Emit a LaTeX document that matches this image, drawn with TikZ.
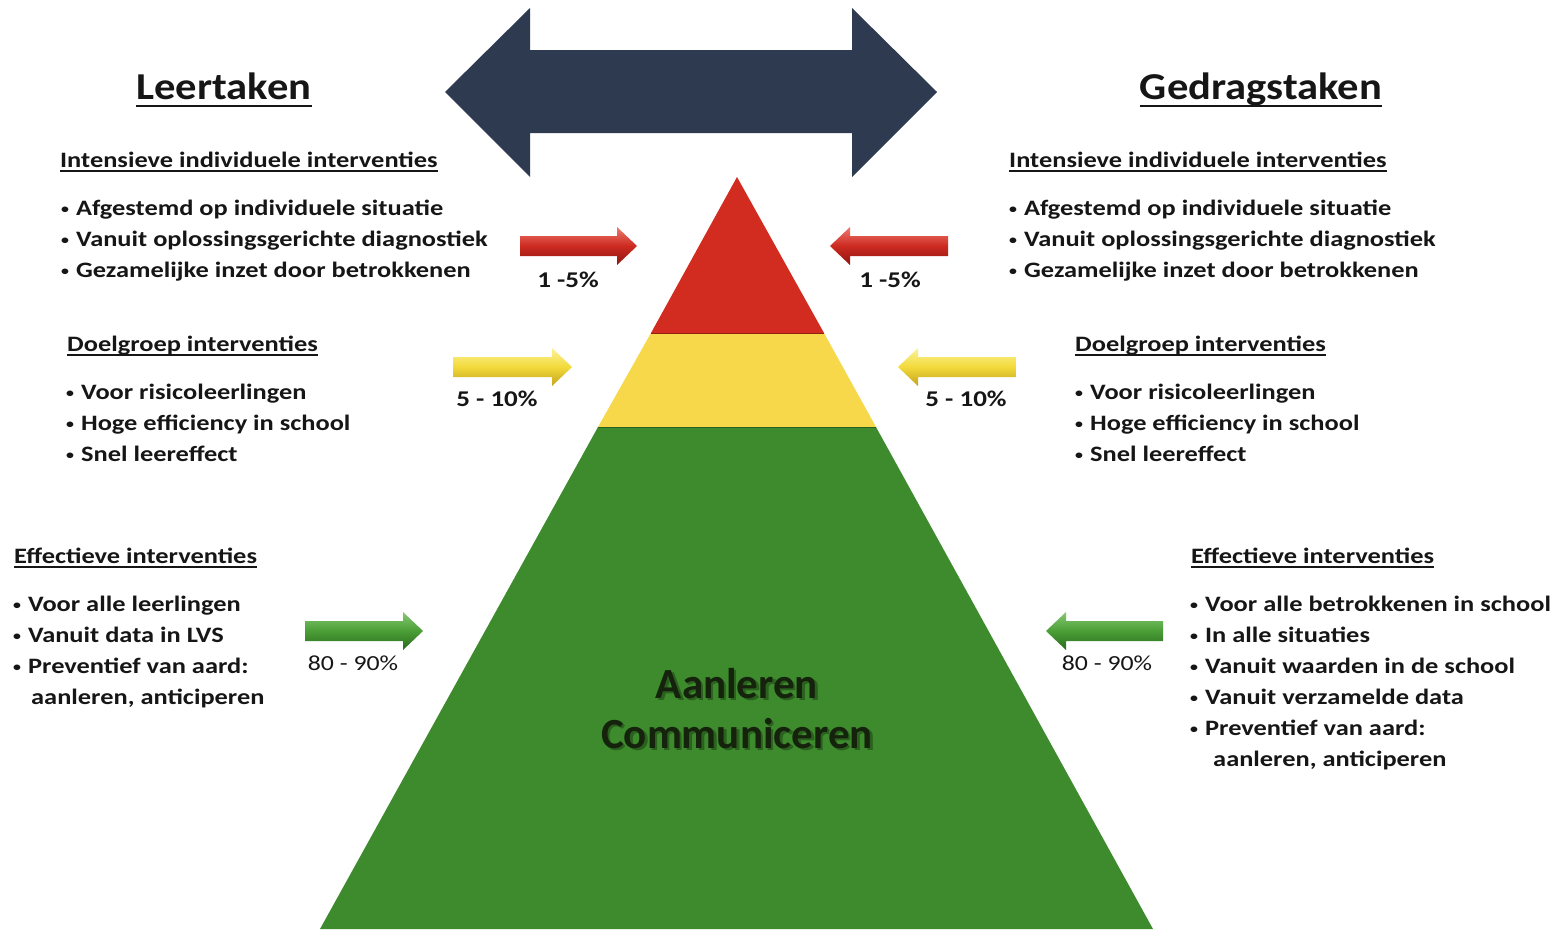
\documentclass[tikz,border=0pt]{standalone}
\usepackage{fontspec}
\setmainfont{Carlito}
\newfontfamily\wfont[FakeStretch=1.2]{Carlito}
\newfontfamily\tfont[FakeStretch=1.12]{Carlito}
\definecolor{navy}{HTML}{2E3A50}
\definecolor{txt}{HTML}{161616}
\definecolor{pred}{HTML}{D22B1F}
\definecolor{pyel}{HTML}{F6D84A}
\definecolor{pgrn}{HTML}{3E8B2D}
\definecolor{ar}{HTML}{CC2A20}
\definecolor{arl}{HTML}{EE7A6E}
\definecolor{ard}{HTML}{8E1710}
\definecolor{ay}{HTML}{F2DA3A}
\definecolor{ayl}{HTML}{FCF29A}
\definecolor{ayd}{HTML}{C4A31E}
\definecolor{ag}{HTML}{4A9E36}
\definecolor{agl}{HTML}{86C872}
\definecolor{agd}{HTML}{2A6A1E}
\definecolor{aantxt}{HTML}{15230D}
\newcommand\mkarrow[5]{%
  \shade[top color=#5l, bottom color=#5d, middle color=#5]
    (#1,#4-10) -- (#2,#4-10) -- (#2,#4-19) -- (#3,#4) -- (#2,#4+19) -- (#2,#4+10) -- (#1,#4+10) -- cycle;}
\newcommand\bul{\raisebox{0.12ex}{\scalebox{0.6}{\textbullet}}\hspace{0.32em}}
\begin{document}
\begin{tikzpicture}[x=1pt,y=-1pt,
  title/.style={font=\tfont\fontsize{38}{46}\selectfont\bfseries, inner sep=0pt, anchor=base, text=txt},
  head/.style={font=\wfont\fontsize{22}{26}\selectfont\bfseries, inner sep=0pt, anchor=base west, text=txt},
  body/.style={font=\wfont\fontsize{22}{26}\selectfont\bfseries, inner sep=0pt, anchor=base west, text=txt},
  pct/.style={font=\wfont\fontsize{22.5}{26}\selectfont\bfseries, inner sep=0pt, anchor=base, text=txt},
  pctn/.style={font=\wfont\fontsize{21.5}{25}\selectfont, inner sep=0pt, anchor=base, text=txt},
  ul/.style={line width=1.6pt, txt},
  ult/.style={line width=2.8pt, txt},
  big/.style={font=\fontsize{43}{50}\selectfont\bfseries, inner sep=0pt, anchor=base}
]
\useasboundingbox (0,0) rectangle (1555,929);
\fill[white] (0,0) rectangle (1555,929);

% big double arrow
\fill[navy] (445,92) -- (530,8) -- (530,50) -- (852,50) -- (852,8) -- (937,92)
  -- (852,177) -- (852,133) -- (530,133) -- (530,177) -- cycle;

% pyramid
\fill[pgrn] (598,427) -- (876,427) -- (1153,929) -- (320,929) -- cycle;
\fill[pyel] (651,333) -- (824,333) -- (876,427) -- (598,427) -- cycle;
\fill[pred] (737,177) -- (824,333) -- (651,333) -- cycle;
\draw[pred!70!black, line width=0.8pt] (651,333) -- (824,333);
\draw[pgrn!70!black, line width=0.8pt] (598,427) -- (876,427);

% centre text
\node[big, text=black, opacity=0.3] (aanS) at (739.5,700.5) {Aanleren};
\node[big, text=black, opacity=0.3] (comS) at (739.5,750.5) {Communiceren};
\node[big, text=aantxt] (aan) at (737,698) {Aanleren};
\node[big, text=aantxt] (com) at (737,748) {Communiceren};

% small arrows
\mkarrow{520}{617}{637}{246}{ar}
\mkarrow{948}{850}{830}{246}{ar}
\mkarrow{453}{552}{572}{367}{ay}
\mkarrow{1016}{918}{898}{367}{ay}
\mkarrow{305}{403}{423}{631}{ag}
\mkarrow{1163}{1066}{1046}{631}{ag}

\node[pct] (p1l) at (568,287) {1 -5\%};
\node[pct] (p1r) at (890,287) {1 -5\%};
\node[pct] (p2l) at (497,406) {5 - 10\%};
\node[pct] (p2r) at (966,406) {5 - 10\%};
\node[pctn] (p3l) at (353,670) {80 - 90\%};
\node[pctn] (p3r) at (1107,670) {80 - 90\%};

% titles
\node[title] (tl) at (224,99) {Leertaken};
\node[title] (tr) at (1261,99) {Gedragstaken};
\draw[ult] ([yshift=-7pt]tl.base west) -- ([yshift=-7pt]tl.base east);
\draw[ult] ([yshift=-7pt]tr.base west) -- ([yshift=-7pt]tr.base east);

% left column
\node[head] (lh1) at (60,167) {Intensieve individuele interventies};
\draw[ul] ([yshift=-4pt]lh1.base west) -- ([yshift=-4pt]lh1.base east);
\node[body] (lb11) at (61,215) {\bul Afgestemd op individuele situatie};
\node[body] (lb12) at (61,246) {\bul Vanuit oplossingsgerichte diagnostiek};
\node[body] (lb13) at (61,277) {\bul Gezamelijke inzet door betrokkenen};

\node[head] (lh2) at (67,351) {Doelgroep interventies};
\draw[ul] ([yshift=-4pt]lh2.base west) -- ([yshift=-4pt]lh2.base east);
\node[body] (lb21) at (66,399) {\bul Voor risicoleerlingen};
\node[body] (lb22) at (66,430) {\bul Hoge efficiency in school};
\node[body] (lb23) at (66,461) {\bul Snel leereffect};

\node[head] (lh3) at (14,563) {Effectieve interventies};
\draw[ul] ([yshift=-4pt]lh3.base west) -- ([yshift=-4pt]lh3.base east);
\node[body] (lb31) at (13,611) {\bul Voor alle leerlingen};
\node[body] (lb32) at (13,642) {\bul Vanuit data in LVS};
\node[body] (lb33) at (13,673) {\bul Preventief van aard:};
\node[body] (lb34) at (31,704) {aanleren, anticiperen};

% right column
\node[head] (rh1) at (1009,167) {Intensieve individuele interventies};
\draw[ul] ([yshift=-4pt]rh1.base west) -- ([yshift=-4pt]rh1.base east);
\node[body] (rb11) at (1009,215) {\bul Afgestemd op individuele situatie};
\node[body] (rb12) at (1009,246) {\bul Vanuit oplossingsgerichte diagnostiek};
\node[body] (rb13) at (1009,277) {\bul Gezamelijke inzet door betrokkenen};

\node[head] (rh2) at (1075,351) {Doelgroep interventies};
\draw[ul] ([yshift=-4pt]rh2.base west) -- ([yshift=-4pt]rh2.base east);
\node[body] (rb21) at (1075,399) {\bul Voor risicoleerlingen};
\node[body] (rb22) at (1075,430) {\bul Hoge efficiency in school};
\node[body] (rb23) at (1075,461) {\bul Snel leereffect};

\node[head] (rh3) at (1191,563) {Effectieve interventies};
\draw[ul] ([yshift=-4pt]rh3.base west) -- ([yshift=-4pt]rh3.base east);
\node[body] (rb31) at (1190,611) {\bul Voor alle betrokkenen in school};
\node[body] (rb32) at (1190,642) {\bul In alle situaties};
\node[body] (rb33) at (1190,673) {\bul Vanuit waarden in de school};
\node[body] (rb34) at (1190,704) {\bul Vanuit verzamelde data};
\node[body] (rb35) at (1190,735) {\bul Preventief van aard:};
\node[body] (rb36) at (1213,766) {aanleren, anticiperen};
\end{tikzpicture}
\end{document}
